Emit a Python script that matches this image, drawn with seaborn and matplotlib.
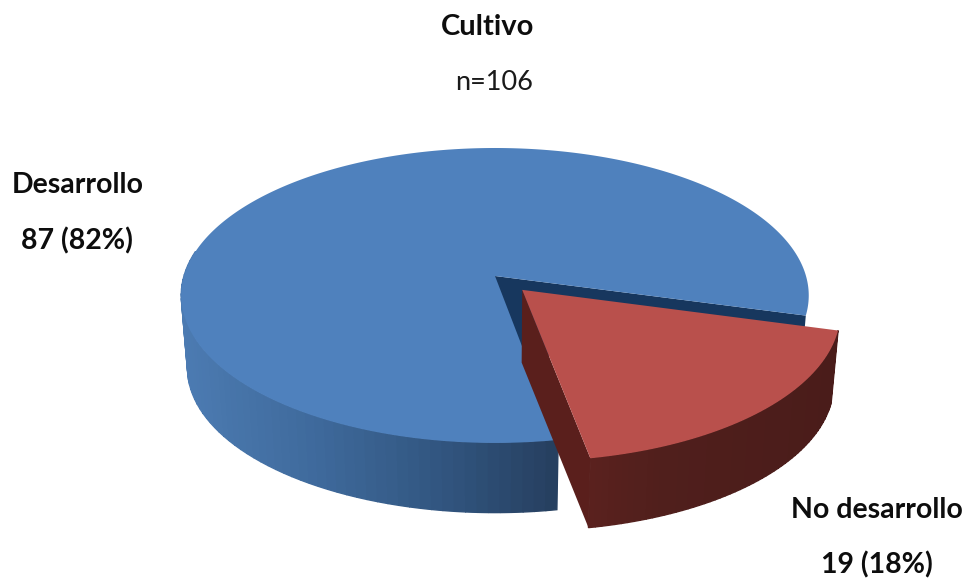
import numpy as np
import matplotlib
matplotlib.use("Agg")
import matplotlib.pyplot as plt
import seaborn as sns
from matplotlib.path import Path
from matplotlib.transforms import Transform
from matplotlib.colors import LinearSegmentedColormap

categories = ["Desarrollo", "No desarrollo"]
counts = [87, 19]
percent_labels = ["87 (82%)", "19 (18%)"]
title = "Cultivo"
subtitle = "n=106"
explode = [0, 0.128]
start_angle = -15.3
top_colors = ["#4F81BD", "#B9504C"]

CX, CY, A, B, K = 495.0, 276.0, 311.0, 144.9, 0.132
SCALE, DROP = 0.98, 73.0


def project(u, v, depth=False):
    u, v = np.asarray(u, float), np.asarray(v, float)
    d = 1 + K * v
    x = A * u / d
    y = -B * v / d
    if depth:
        return CX + SCALE * x, CY + SCALE * y + DROP
    return CX + x, CY + y


class Perspective(Transform):
    input_dims = output_dims = 2
    is_separable = False
    has_inverse = False

    def transform_non_affine(self, values):
        values = np.asarray(values, float)
        return np.column_stack(project(values[:, 0], values[:, 1]))

    def transform_path_non_affine(self, path):
        pts = []
        for curve, code in path.iter_bezier():
            if code == Path.MOVETO:
                pts.append(curve.control_points[-1:])
            else:
                pts.append(curve(np.linspace(0, 1, 25))[1:])
        return Path(self.transform_non_affine(np.vstack(pts)))


sns.set_theme(style="white")
plt.rcParams["font.family"] = ["Lato", "DejaVu Sans"]

fig = plt.figure(figsize=(9.65, 5.8), dpi=100, facecolor="white")
ax = fig.add_axes([0, 0, 1, 1])
wedges, _ = ax.pie(counts, colors=top_colors, explode=explode,
                   startangle=start_angle, radius=1, counterclock=True,
                   wedgeprops=dict(linewidth=0))
ax.set_aspect("auto")
ax.set_xlim(0, 965)
ax.set_ylim(580, 0)
ax.axis("off")
for w in wedges:
    w.set_transform(Perspective() + ax.transData)
    w.set_zorder(5)
wedges[1].set_zorder(8)

blue_side = LinearSegmentedColormap.from_list(
    "bs", [(0, "#4C7BB2"), (0.35, "#3F6A9C"), (0.7, "#31557F"), (1, "#263F5F")])
red_side = LinearSegmentedColormap.from_list(
    "rs", [(0, "#5A211E"), (0.3, "#501F1C"), (1, "#4A1C1A")])


def arc_strips(wedge, cmap, z, t0=None):
    (ou, ov) = wedge.center
    t1, t2 = wedge.theta1, wedge.theta2
    if t0 is not None:
        t1 = t0
    ts = np.radians(np.linspace(t1, t2, 60))
    xs_top = project(ou + np.cos(ts), ov + np.sin(ts))[0]
    lo, hi = xs_top.min(), xs_top.max()
    for a, b in zip(ts[:-1], ts[1:]):
        tt = np.linspace(a, b, 6)
        u, v = ou + np.cos(tt), ov + np.sin(tt)
        x1, y1 = project(u, v)
        x2, y2 = project(u, v, depth=True)
        c = cmap((x1.mean() - lo) / (hi - lo))
        ax.fill(np.r_[x1, x2[::-1]], np.r_[y1, y2[::-1]], color=c, lw=1.0,
                zorder=z, joinstyle="miter")


def radial_face(center, theta, color, z):
    ou, ov = center
    ue, ve = ou + np.cos(np.radians(theta)), ov + np.sin(np.radians(theta))
    x1, y1 = project([ou, ue], [ov, ve])
    x2, y2 = project([ou, ue], [ov, ve], depth=True)
    ax.fill(np.r_[x1, x2[::-1]], np.r_[y1, y2[::-1]], color=color, lw=0, zorder=z)


# Blue body: inner cut face, outer wall, then the top face
radial_face(wedges[0].center, wedges[0].theta1, "#17375E", 2)
arc_strips(wedges[0], blue_side, 3, t0=170)
# Red slice: walls, then top face
radial_face(wedges[1].center, wedges[1].theta1, "#5A1F1C", 6)
arc_strips(wedges[1], red_side, 7)

ink = "#0D0D0D"
ax.text(487.5, 27, title, ha="center", va="center", fontsize=21, fontweight="bold", color=ink)
ax.text(494, 82, subtitle, ha="center", va="center", fontsize=19.5, color="#1A1A1A")
ax.text(77.5, 185, categories[0], ha="center", va="center", fontsize=20.5, fontweight="bold", color=ink)
ax.text(77, 241, percent_labels[0], ha="center", va="center", fontsize=20.5, fontweight="bold", color=ink)
ax.text(876.5, 510, categories[1], ha="center", va="center", fontsize=20.5, fontweight="bold", color=ink)
ax.text(876.5, 565, percent_labels[1], ha="center", va="center", fontsize=20.5, fontweight="bold", color=ink)

fig.savefig("out.png", dpi=100, facecolor="white")
